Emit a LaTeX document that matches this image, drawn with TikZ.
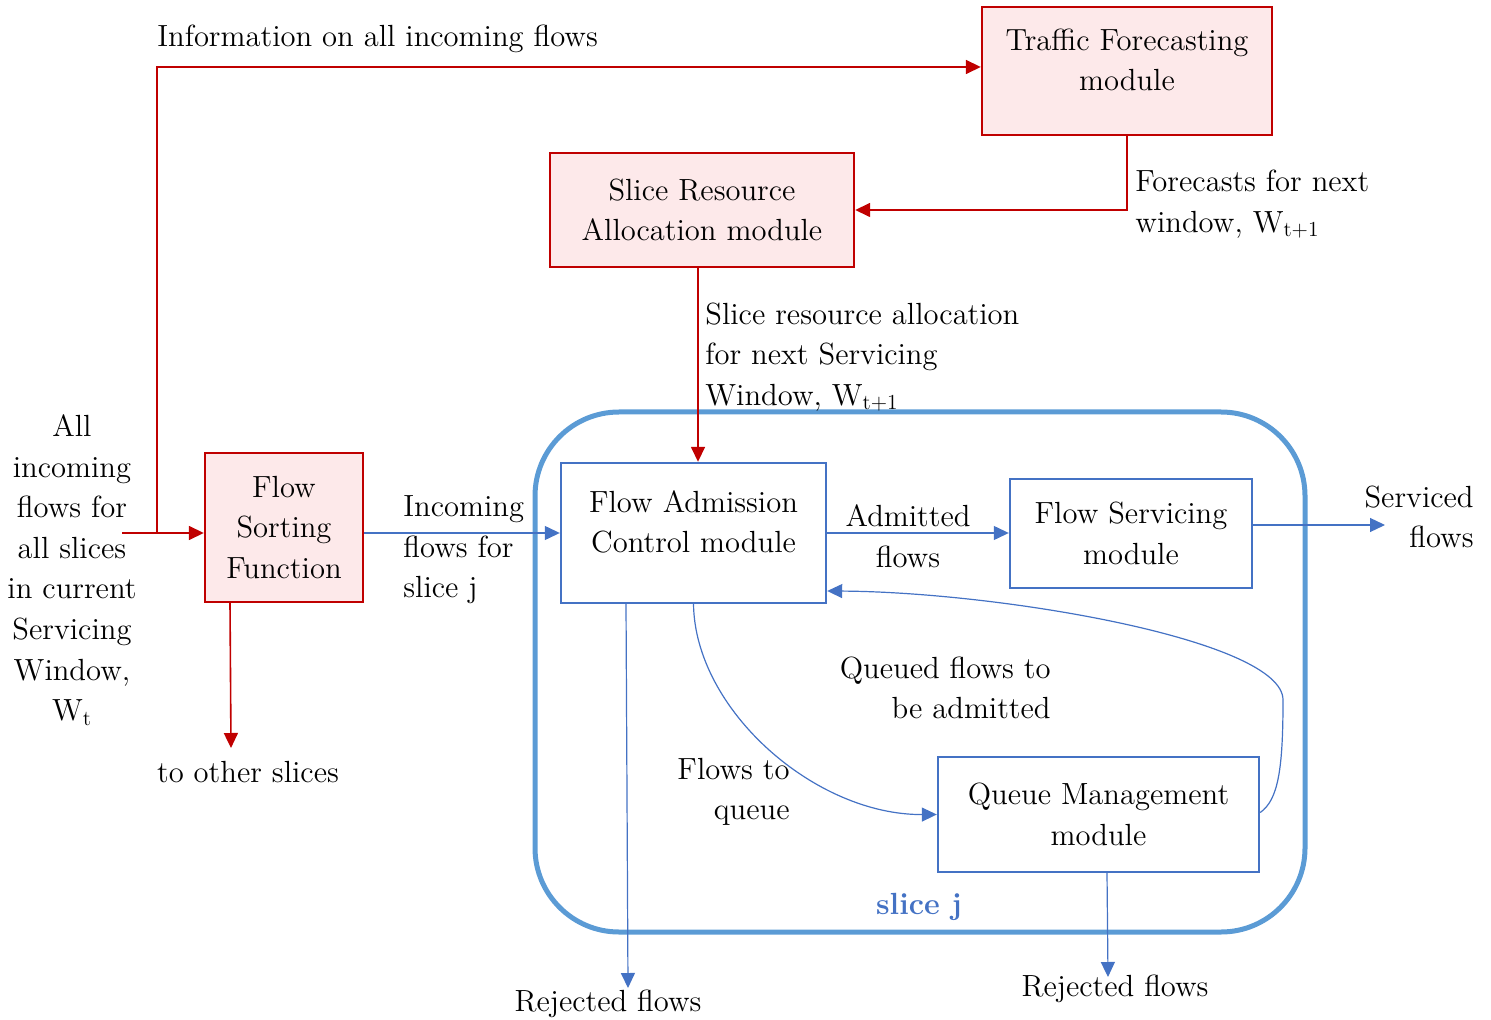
\documentclass[tikz,border=0pt]{standalone}
\usepackage{fontspec}
\setmainfont{lmroman12-regular.otf}[BoldFont=lmroman12-bold.otf]
\usetikzlibrary{arrows.meta}
\definecolor{redc}{HTML}{C00000}
\definecolor{pinkf}{HTML}{FDE9EA}
\definecolor{blueb}{HTML}{4472C4}
\definecolor{slicec}{HTML}{5B9BD5}
\begin{document}
\begin{tikzpicture}[x=0.5pt,y=-0.5pt,
  every node/.style={font=\fontsize{15.3}{20.3}\selectfont, inner sep=0pt},
  redbox/.style={draw=redc, fill=pinkf, line width=1.2pt, align=center},
  bluebox/.style={draw=blueb, fill=white, line width=1.2pt, align=center},
  redarrow/.style={draw=redc, line width=0.8pt, -{Triangle[length=7.5pt,width=7pt]}},
  bluearrow/.style={draw=blueb, line width=0.6pt, -{Triangle[length=7.5pt,width=7pt]}},
  slicebox/.style={draw=slicec, line width=2.5pt, rounded corners=42pt}
]
\useasboundingbox (0,0) rectangle (1491,1020);

% container
\node[slicebox, minimum width=385pt, minimum height=260pt] (slice) at (920,672) {};
\node[font=\fontsize{15.3}{20.3}\selectfont\bfseries, text=blueb] (slicelbl) at (919,907) {slice j};

% boxes
\node[redbox, minimum width=145pt, minimum height=64pt] (tf) at (1127,71) {};
\node[align=center] (tftext) at (1127,60) {Traffic Forecasting\\module};
\node[redbox, minimum width=152pt, minimum height=57pt] (sra) at (702,210) {Slice Resource\\Allocation module};
\node[redbox, minimum width=79pt, minimum height=74.5pt] (fsf) at (284,527.5) {Flow\\Sorting\\Function};
\node[bluebox, minimum width=132.5pt, minimum height=70pt] (fac) at (693.5,533) {};
\node[align=center] (factext) at (693.5,522) {Flow Admission\\Control module};
\node[bluebox, minimum width=121pt, minimum height=54.5pt] (fs) at (1131,533.5) {Flow Servicing\\module};
\node[bluebox, minimum width=160.5pt, minimum height=57.5pt] (qm) at (1098.5,814.5) {Queue Management\\module};

% free ends
\coordinate (inStart) at (122,533);
\coordinate (split) at (157,533);
\coordinate (toOther) at (231,748);
\coordinate (serv) at (1385,525);
\coordinate (rej1) at (628,988);
\coordinate (rej2) at (1108,977);

% red connectors
\draw[redarrow] (inStart) -- (inStart -| fsf.west);
\draw[redarrow] (split) |- ([yshift=2pt]tf.west);
\draw[redarrow] (tf.south) |- (sra.east);
\draw[redarrow] ([xshift=-2pt]sra.south) -- ([xshift=-2pt]sra.south |- fac.north);
\draw[redarrow] ([xshift=-27pt]fsf.south) -- (toOther);

% blue connectors
\draw[bluearrow] (fsf.east |- fac.west) -- (fac.west);
\draw[bluearrow] (fac.east) -- (fac.east -| fs.west);
\draw[bluearrow] ([yshift=4.25pt]fs.east) -- (serv);
\draw[bluearrow] ([xshift=-33.75pt]fac.south) -- (rej1);
\draw[bluearrow] (fac.south) .. controls (695,710) and (815,815) .. (qm.west);
\draw[bluearrow] ([yshift=1pt]qm.east) .. controls (1278,800) and (1283,770) .. (1283,700)
  .. controls (1283,640) and (1000,592) .. ([yshift=-29pt]fac.east);
\draw[bluearrow] ([xshift=4.25pt]qm.south) -- (rej2);

% labels
\node[anchor=west] (infolbl) at (157,39) {Information on all incoming flows};
\node[anchor=west, align=left] (fclbl) at (1135,204) {Forecasts for next\\window, W\textsubscript{t+1}};
\node[anchor=west, align=left] (sralbl) at (705,357) {Slice resource allocation\\for next Servicing\\Window, W\textsubscript{t+1}};
\node[align=center] (alllbl) at (72,570) {All\\incoming\\flows for\\all slices\\in current\\Servicing\\Window,\\W\textsubscript{t}};
\node (otherlbl) at (248,772) {to other slices};
\node[anchor=west, align=left] (inclbl) at (403,550) {Incoming\\flows for\\slice j};
\node[align=center] (admlbl) at (908,536) {Admitted\\flows};
\node[anchor=east, align=right] (servlbl) at (1474,517) {Serviced\\flows};
\node[anchor=east, align=right] (queuedlbl) at (1051,688) {Queued flows to\\be admitted};
\node[anchor=east, align=right] (toqlbl) at (790,792) {Flows to\\queue};
\node (rej1lbl) at (608,1004) {Rejected flows};
\node (rej2lbl) at (1115,989) {Rejected flows};
\end{tikzpicture}
\end{document}
